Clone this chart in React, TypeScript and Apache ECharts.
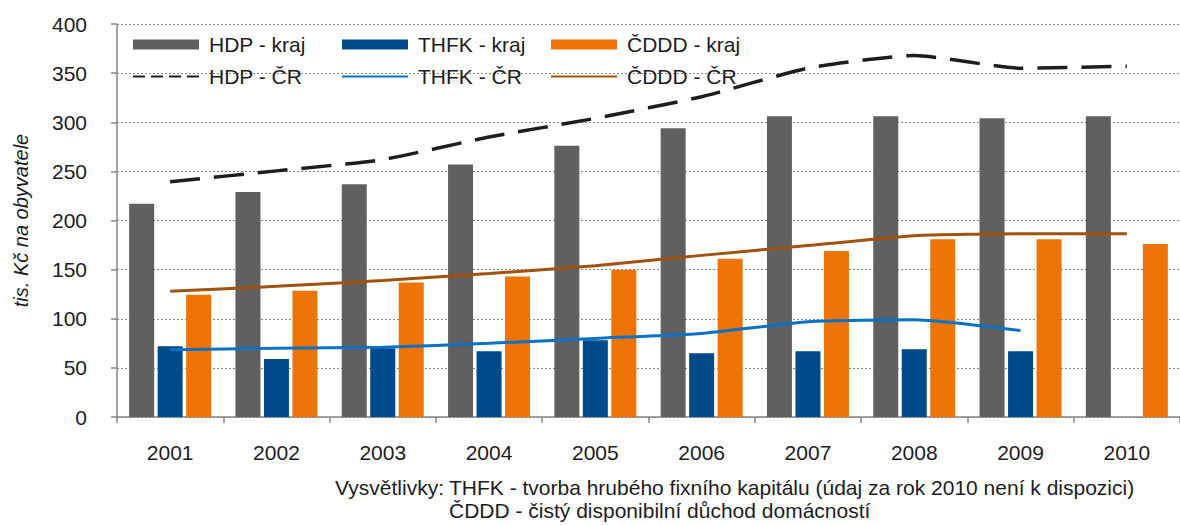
import React, { useEffect, useRef } from "react";
import * as echarts from "echarts";

const years = ["2001", "2002", "2003", "2004", "2005", "2006", "2007", "2008", "2009", "2010"];
const hdpKraj = [217, 229, 237, 257, 276, 294, 306, 306, 304, 306];
const thfkKraj = [72, 59, 70, 67, 78, 65, 67, 69, 67, null];
const cdddKraj = [124.5, 128.5, 137, 143, 150, 161, 169, 181, 181, 176];
const hdpCR = [239.5, 250.5, 262, 285, 304, 326, 355, 368, 355, 357];
const thfkCR = [68.5, 70, 71, 75, 80, 85, 97, 99, 88, null];
const cdddCR = [128, 133, 139, 146, 154, 164.5, 174.5, 184.5, 186.5, 186.5];

const yMin = 0;
const yMax = 400;
const yStep = 50;
const yAxisTitle = "tis. Kč na obyvatele";
const noteLabel = "Vysvětlivky:";
const noteLine1 = "THFK - tvorba hrubého fixního kapitálu (údaj za rok 2010 není k dispozici)";
const noteLine2 = "ČDDD - čistý disponibilní důchod domácností";

const FONT = "'Liberation Sans', Arial, sans-serif";
const TEXT = "#1c1c24";
const AXIS = "#868686";
const C_GRAY = "#606060";
const C_BLUE = "#004a8a";
const C_ORANGE = "#ee7309";
const C_DASH = "#1e1e1e";
const C_LBLUE = "#0a72c4";
const C_BROWN = "#a0520e";

export default function App() {
  const ref = useRef<HTMLDivElement>(null);
  useEffect(() => {
    if (!ref.current) return;
    const chart = echarts.init(ref.current, undefined, { renderer: "svg" });
    const legendCommon = {
      orient: "vertical" as const,
      top: 34,
      padding: 0,
      itemGap: 11,
      itemWidth: 66,
      itemHeight: 10,
      selectedMode: false,
      textStyle: { fontFamily: FONT, fontSize: 21, color: TEXT, padding: [0, 0, 0, 5] },
    };
    const hideSym = { opacity: 0, borderWidth: 0 };
    chart.setOption({
      animation: false,
      backgroundColor: "#ffffff",
      textStyle: { fontFamily: FONT },
      grid: { left: 117, top: 24, width: 1080, height: 393 },
      legend: [
        {
          ...legendCommon,
          left: 132,
          data: [
            { name: "HDP - kraj", icon: "rect" },
            { name: "HDP - ČR", lineStyle: { width: 2, type: [12, 6] }, itemStyle: hideSym },
          ],
        },
        {
          ...legendCommon,
          left: 341,
          data: [
            { name: "THFK - kraj", icon: "rect" },
            { name: "THFK - ČR", lineStyle: { width: 2 }, itemStyle: hideSym },
          ],
        },
        {
          ...legendCommon,
          left: 550,
          data: [
            { name: "ČDDD - kraj", icon: "rect" },
            { name: "ČDDD - ČR", lineStyle: { width: 2 }, itemStyle: hideSym },
          ],
        },
      ],
      xAxis: {
        type: "category",
        data: years,
        boundaryGap: true,
        axisLine: { show: true, lineStyle: { color: AXIS, width: 1.5 } },
        axisTick: { show: true, length: 6, interval: 0, lineStyle: { color: AXIS, width: 1.5 } },
        axisLabel: { margin: 25, fontSize: 21, color: TEXT, fontFamily: FONT },
        splitLine: { show: false },
      },
      yAxis: {
        type: "value",
        min: yMin,
        max: yMax,
        interval: yStep,
        name: yAxisTitle,
        nameLocation: "middle",
        nameGap: 86,
        nameTextStyle: { fontSize: 20, fontStyle: "italic", color: TEXT, fontFamily: FONT },
        axisLine: { show: true, lineStyle: { color: AXIS, width: 1.5 } },
        axisTick: { show: true, length: 6, lineStyle: { color: AXIS, width: 1.5 } },
        axisLabel: { margin: 30, fontSize: 21, color: TEXT, fontFamily: FONT },
        splitLine: { show: true, lineStyle: { color: "#8a8a8a", type: [2, 2], width: 1 } },
      },
      series: [
        { name: "HDP - kraj", type: "bar", data: hdpKraj, barWidth: 25, barGap: "14%", itemStyle: { color: C_GRAY } },
        { name: "THFK - kraj", type: "bar", data: thfkKraj, barWidth: 25, barGap: "14%", itemStyle: { color: C_BLUE } },
        { name: "ČDDD - kraj", type: "bar", data: cdddKraj, barWidth: 25, barGap: "14%", itemStyle: { color: C_ORANGE } },
        {
          name: "HDP - ČR", type: "line", data: hdpCR, symbol: "none", smooth: 0.18, z: 5,
          lineStyle: { color: C_DASH, width: 3.5, type: [30, 14] }, itemStyle: { color: C_DASH },
        },
        {
          name: "THFK - ČR", type: "line", data: thfkCR, symbol: "none", smooth: 0.18, z: 5,
          lineStyle: { color: C_LBLUE, width: 3 }, itemStyle: { color: C_LBLUE },
        },
        {
          name: "ČDDD - ČR", type: "line", data: cdddCR, symbol: "none", smooth: 0.18, z: 5,
          lineStyle: { color: C_BROWN, width: 3 }, itemStyle: { color: C_BROWN },
        },
      ],
      graphic: [
        { type: "text", right: 1180 - 444, top: 477, style: { text: noteLabel, font: `21px ${FONT}`, fill: TEXT } },
        { type: "text", left: 449, top: 477, style: { text: noteLine1, font: `21px ${FONT}`, fill: TEXT } },
        { type: "text", left: 449, top: 500, style: { text: noteLine2, font: `21px ${FONT}`, fill: TEXT } },
      ],
    });
    return () => chart.dispose();
  }, []);
  return (
    <div
      ref={ref}
      style={{ position: "absolute", left: 0, top: 0, width: 1180, height: 525, background: "#fff" }}
    />
  );
}
